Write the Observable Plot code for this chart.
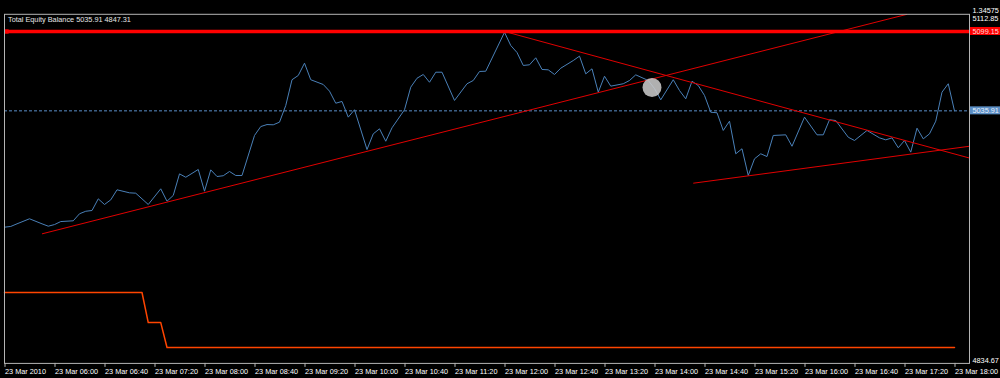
<!DOCTYPE html>
<html><head><meta charset="utf-8">
<script src="https://cdn.jsdelivr.net/npm/d3@7"></script>
<script src="https://cdn.jsdelivr.net/npm/@observablehq/plot@0.6"></script>
<style>
html,body{margin:0;padding:0;background:#000;}
#chart{width:1000px;height:378px;overflow:hidden;}
</style></head><body><div id="chart"></div>
<script>
// ---------- data ----------
const equityTimes = ["05:20","05:25","05:30","05:40","05:50","05:55","06:00","06:05","06:15","06:20","06:25","06:30","06:35","06:40","06:45","06:50","07:00","07:05","07:15","07:25","07:30","07:35","07:40","07:45","07:55","08:00","08:05","08:10","08:15","08:20","08:25","08:30","08:40","08:45","08:50","08:55","09:00","09:05","09:10","09:15","09:20","09:25","09:35","09:40","09:45","09:50","09:55","10:00","10:10","10:15","10:20","10:25","10:30","10:40","10:45","10:50","10:55","11:00","11:05","11:10","11:20","11:30","11:35","11:40","11:45","12:00","12:05","12:10","12:15","12:20","12:25","12:30","12:35","12:40","12:45","12:55","13:00","13:05","13:10","13:15","13:20","13:25","13:35","13:40","13:45","13:55","14:00","14:05","14:15","14:20","14:25","14:30","14:35","14:40","14:45","14:50","14:55","15:00","15:05","15:10","15:15","15:20","15:25","15:30","15:35","15:45","15:50","16:00","16:10","16:15","16:20","16:25","16:35","16:40","16:50","17:00","17:05","17:10","17:15","17:20","17:25","17:30","17:35","17:40","17:45","17:50","17:55","18:00"];
const equityValues = [4943.2,4943.8,4945.9,4949.9,4945.9,4944.0,4945.3,4947.7,4948.3,4953.9,4955.9,4956.5,4965.8,4961.3,4965.0,4973.0,4970.6,4970.3,4961.3,4973.8,4963.9,4968.5,4985.7,4983.0,4989.2,4971.9,4988.9,4983.6,4984.2,4987.6,4984.4,4984.4,5016.3,5023.4,5025.0,5024.8,5026.9,5040.2,5060.7,5064.1,5073.9,5060.7,5056.9,5051.6,5042.0,5043.4,5030.9,5036.8,5005.1,5017.6,5021.6,5011.7,5022.4,5036.8,5054.8,5061.9,5064.9,5058.7,5066.7,5066.7,5044.2,5057.5,5060.1,5067.3,5067.5,5098.5,5088.0,5082.4,5072.1,5072.6,5078.2,5068.9,5068.6,5064.9,5069.9,5076.0,5079.5,5065.4,5069.4,5050.8,5063.5,5055.6,5057.5,5060.1,5064.6,5060.1,5053.7,5044.7,5060.7,5052.1,5045.5,5059.5,5056.1,5048.2,5034.8,5034.4,5020.3,5027.7,5001.7,5005.7,4984.4,4997.7,5001.7,4999.5,5016.3,5016.8,5007.7,5030.9,5016.8,5016.8,5028.8,5028.2,5014.9,5012.3,5020.3,5014.4,5012.8,5014.4,5006.5,5012.3,5003.0,5022.1,5013.6,5017.6,5027.7,5050.8,5057.5,5035.91];

const balanceTimes = ["05:20","07:10","07:15","07:25","07:30","18:00"];
const balanceValues = [4891.15,4891.15,4867.2,4867.2,4847.31,4847.31];

const trendStartTimes  = ["05:50","12:03","14:31"];
const trendStartValues = [4937.9, 5098.35, 4978.25];
const trendEndTimes    = ["17:22","18:12","18:12"];
const trendEndValues   = [5112.85, 4998.3, 5007.7];

const resistanceLevel = 5099.15;
const equityNow = 5035.91;
const balanceNow = 4847.31;
const paneMin = 4834.67;
const paneMax = 5112.85;
const timeStart = "05:20";
const timeEnd = "18:12";

const xTickTimes = ["05:20","06:00","06:40","07:20","08:00","08:40","09:20","10:00","10:40","11:20","12:00","12:40","13:20","14:00","14:40","15:20","16:00","16:40","17:20","18:00"];
const xTickLabels = ["23 Mar 2010","23 Mar 06:00","23 Mar 06:40","23 Mar 07:20","23 Mar 08:00","23 Mar 08:40","23 Mar 09:20","23 Mar 10:00","23 Mar 10:40","23 Mar 11:20","23 Mar 12:00","23 Mar 12:40","23 Mar 13:20","23 Mar 14:00","23 Mar 14:40","23 Mar 15:20","23 Mar 16:00","23 Mar 16:40","23 Mar 17:20","23 Mar 18:00"];

const titleText = "Total Equity Balance";
const mainPaneLabel = "1.34575";
const cursorTime = "13:58";
const cursorValue = 5054.5;

// ---------- build ----------
const toMin = s => { const [h, m] = s.split(":").map(Number); return h * 60 + m; };
const equity = equityTimes.map((t, i) => ({t: toMin(t), v: equityValues[i]}));
const balance = balanceTimes.map((t, i) => ({t: toMin(t), v: balanceValues[i]}));
const trends = trendStartTimes.map((t, i) => ({
  x1: toMin(t), y1: trendStartValues[i], x2: toMin(trendEndTimes[i]), y2: trendEndValues[i]
}));
const tickMins = xTickTimes.map(toMin);
const tickLabelMap = new Map(tickMins.map((m, i) => [m, xTickLabels[i]]));

const NS = "http://www.w3.org/2000/svg";
function priceTag(value, box, ink) {
  return Plot.text([value], {
    y: d => d, text: d => d.toFixed(2), frameAnchor: "right", dx: 3,
    textAnchor: "start", lineAnchor: "middle", fill: ink,
    render(index, scales, values, dimensions, context, next) {
      const g = next(index, scales, values, dimensions, context);
      const yy = scales.y(value);
      const r = document.createElementNS(NS, "rect");
      r.setAttribute("x", dimensions.width - dimensions.marginRight + 1);
      r.setAttribute("y", yy - 4);
      r.setAttribute("width", dimensions.marginRight - 1);
      r.setAttribute("height", 8);
      r.setAttribute("fill", box);
      const wrap = document.createElementNS(NS, "g");
      wrap.appendChild(r);
      wrap.appendChild(g);
      return wrap;
    }
  });
}

const chart = Plot.plot({
  width: 1000,
  height: 378,
  marginLeft: 4,
  marginRight: 31,
  marginTop: 13.8,
  marginBottom: 15.1,
  style: {background: "#000", color: "#ffffff", fontFamily: "'Liberation Sans', Arial, sans-serif", fontSize: "7.3px", overflow: "visible"},
  x: {type: "linear", domain: [toMin(timeStart), toMin(timeEnd)], axis: null},
  y: {domain: [paneMin, paneMax], axis: null},
  marks: [
    Plot.ruleY([equityNow], {stroke: "#5a8fc8", strokeDasharray: "3,2", strokeWidth: 1}),
    Plot.line(balance, {x: "t", y: "v", stroke: "#ff4500", strokeWidth: 1.5}),
    Plot.line(equity, {x: "t", y: "v", stroke: "#4a80b8", strokeWidth: 1}),
    Plot.link(trends, {x1: "x1", y1: "y1", x2: "x2", y2: "y2", stroke: "#e00000", strokeWidth: 1, clip: true}),
    Plot.ruleY([resistanceLevel], {stroke: "#ff0000", strokeWidth: 3.5}),
    Plot.dot([resistanceLevel], {y: d => d, frameAnchor: "left", symbol: "square", r: 2.4, fill: "#ff0000", dx: 2}),
    Plot.dot([{t: toMin(cursorTime), v: cursorValue}], {x: "t", y: "v", r: 9.5, fill: "#c8c8c8", fillOpacity: 0.88}),
    Plot.frame({stroke: "#b4b4b4"}),
    Plot.axisX(tickMins, {
      anchor: "bottom", tickSize: 4, tickPadding: 1, textAnchor: "start", dx: 0.5,
      tickFormat: d => tickLabelMap.get(d), stroke: "#b4b4b4", fill: "#ffffff"
    }),
    Plot.text([paneMax], {y: d => d, text: d => d.toFixed(2), frameAnchor: "right", dx: 3, dy: 2, textAnchor: "start", lineAnchor: "top", fill: "#ffffff"}),
    Plot.text([paneMin], {y: d => d, text: d => d.toFixed(2), frameAnchor: "right", dx: 3, dy: 0, textAnchor: "start", lineAnchor: "bottom", fill: "#ffffff"}),
    Plot.text([mainPaneLabel], {text: d => d, frameAnchor: "top-right", dx: 3, dy: -1, textAnchor: "start", lineAnchor: "bottom", fill: "#ffffff"}),
    priceTag(resistanceLevel, "#ff0000", "#ffd8d8"),
    priceTag(equityNow, "#5b8ec4", "#e8f2ff"),
    Plot.text([`${titleText} ${equityNow.toFixed(2)} ${balanceNow.toFixed(2)}`], {
      text: d => d, frameAnchor: "top-left", dx: 3.5, dy: 3, textAnchor: "start", lineAnchor: "top", fill: "#e6e6e6"
    })
  ]
});
document.getElementById("chart").appendChild(chart);
</script>
</body></html>
